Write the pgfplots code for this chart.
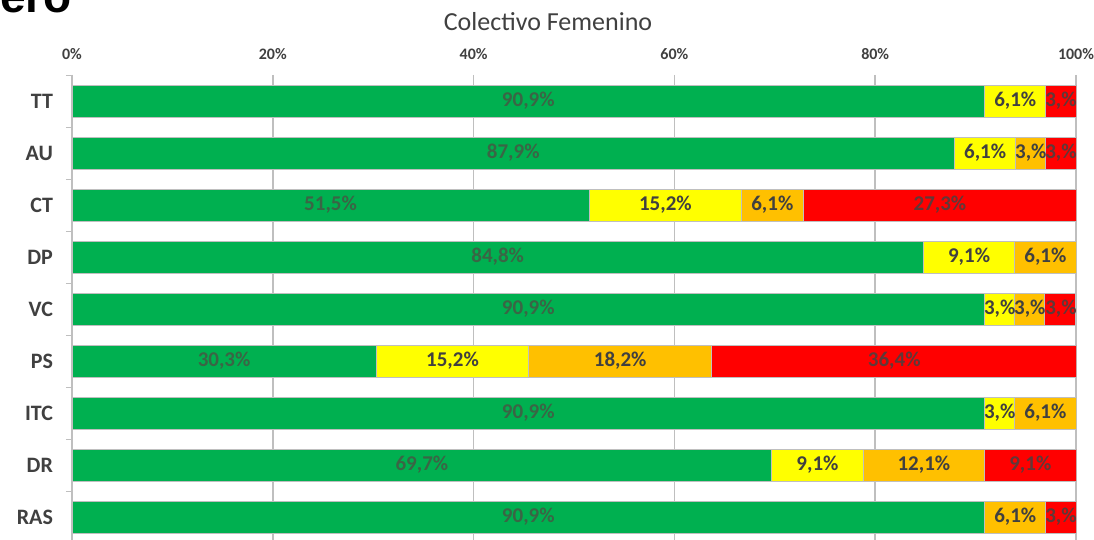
\documentclass[border=0pt]{standalone}
\usepackage{fontspec}
\setmainfont{Carlito}
\newfontfamily\arialfont{Liberation Sans}
\usepackage{pgfplots}
\pgfplotsset{compat=1.18}
\definecolor{cgreen}{HTML}{00B050}
\definecolor{cyellow}{HTML}{FFFF00}
\definecolor{corange}{HTML}{FFC000}
\definecolor{cred}{HTML}{FF0000}
\definecolor{cgrid}{HTML}{BFBFBF}
\definecolor{ctext}{HTML}{404040}
\definecolor{tgreen}{HTML}{3A6545}
\definecolor{tred}{HTML}{603838}

\pgfplotsset{
  frame/.style={at={(36pt,232.5pt)}, anchor=north west,
    scale only axis, width=502pt, height=232.5pt,
    xmin=0, xmax=100, ymin=-0.5, ymax=8.44, y dir=reverse},
  seglabel/.style={draw=none, mark=none,
    nodes near coords, point meta=explicit symbolic,
    nodes near coords style={anchor=center, font=\bfseries\fontsize{10.5}{12}\selectfont, text=#1}},
}

\begin{document}
\begin{tikzpicture}
\clip (0pt,0pt) rectangle (547pt,270pt);
\node[anchor=base east, inner sep=0, font=\arialfont\bfseries\fontsize{23}{23}\selectfont] at (36pt,263.5pt) {Género};
\node[font=\fontsize{13}{15}\selectfont, text=ctext] at (274pt,259pt) {Colectivo Femenino};
\begin{axis}[
  frame,
  xbar stacked, bar width=16pt,
  axis x line*=top, axis y line*=left,
  x axis line style={draw=none},
  y axis line style={draw=cgrid},
  xtick={0,20,40,60,80,100},
  xticklabels={0\%,20\%,40\%,60\%,80\%,100\%},
  xticklabel style={font=\bfseries\fontsize{8}{10}\selectfont, text=ctext, yshift=4pt},
  xmajorgrids, grid style={cgrid, line width=0.8pt},
  ytick={0,...,8},
  yticklabels={TT,AU,CT,DP,VC,PS,ITC,DR,RAS},
  yticklabel style={font=\bfseries\fontsize{11}{13}\selectfont, text=ctext, xshift=-6pt},
  minor ytick={-0.5,0.5,...,7.5},
  major tick length=0pt, minor tick length=3pt,
  tick align=outside,
  minor tick style={cgrid},
  every tick/.style={cgrid},
]
\addplot[fill=cgreen, draw=cgrid] coordinates {(90.9,0) (87.9,1) (51.5,2) (84.8,3) (90.9,4) (30.3,5) (90.9,6) (69.7,7) (90.9,8)};
\addplot[fill=cyellow, draw=cgrid] coordinates {(6.1,0) (6.1,1) (15.2,2) (9.1,3) (3.0,4) (15.2,5) (3.0,6) (9.1,7) (0,8)};
\addplot[fill=corange, draw=cgrid] coordinates {(0,0) (3.0,1) (6.1,2) (6.1,3) (3.0,4) (18.2,5) (6.1,6) (12.1,7) (6.1,8)};
\addplot[fill=cred, draw=cgrid] coordinates {(3.0,0) (3.0,1) (27.3,2) (0,3) (3.0,4) (36.4,5) (0,6) (9.1,7) (3.0,8)};
\end{axis}
% segment labels, placed at the centre of each segment
\begin{axis}[frame, hide axis]
\addplot[seglabel=tgreen] table[meta=label] {
x y label
45.45 0 90,9\%
43.95 1 87,9\%
25.75 2 51,5\%
42.4 3 84,8\%
45.45 4 90,9\%
15.15 5 30,3\%
45.45 6 90,9\%
34.85 7 69,7\%
45.45 8 90,9\%
};
\addplot[seglabel=ctext] table[meta=label] {
x y label
93.95 0 6,1\%
90.95 1 6,1\%
95.5 1 3,\%
59.1 2 15,2\%
69.75 2 6,1\%
89.35 3 9,1\%
96.95 3 6,1\%
92.4 4 3,\%
95.4 4 3,\%
37.9 5 15,2\%
54.6 5 18,2\%
92.4 6 3,\%
96.95 6 6,1\%
74.25 7 9,1\%
84.85 7 12,1\%
93.95 8 6,1\%
};
\addplot[seglabel=tred] table[meta=label] {
x y label
98.5 0 3,\%
98.5 1 3,\%
86.45 2 27,3\%
98.5 4 3,\%
81.9 5 36,4\%
95.45 7 9,1\%
98.5 8 3,\%
};
\end{axis}
\end{tikzpicture}
\end{document}
